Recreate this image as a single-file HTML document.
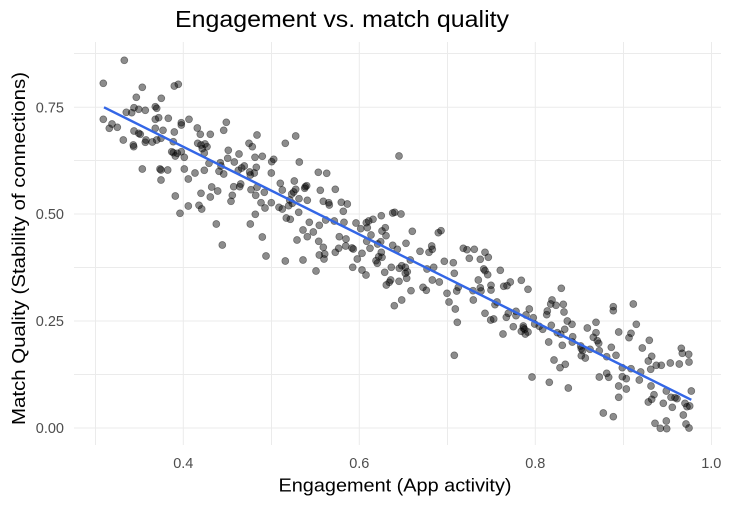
<!DOCTYPE html>
<html>
<head>
<meta charset="utf-8">
<style>
html,body{margin:0;padding:0;background:#fff;}
svg{display:block;}
</style>
</head>
<body>
<svg width="731" height="506" viewBox="0 0 731 506" xmlns="http://www.w3.org/2000/svg">
<rect width="731" height="506" fill="#fff"/>
<g stroke="#ebebeb" stroke-width="1" fill="none">
<line x1="74" x2="721" y1="53.5" y2="53.5"/>
<line x1="74" x2="721" y1="107.3" y2="107.3"/>
<line x1="74" x2="721" y1="160.5" y2="160.5"/>
<line x1="74" x2="721" y1="214" y2="214"/>
<line x1="74" x2="721" y1="267.5" y2="267.5"/>
<line x1="74" x2="721" y1="321" y2="321"/>
<line x1="74" x2="721" y1="374.5" y2="374.5"/>
<line x1="74" x2="721" y1="428" y2="428"/>
<line y1="42" y2="445" x1="95.5" x2="95.5"/>
<line y1="42" y2="445" x1="183.3" x2="183.3"/>
<line y1="42" y2="445" x1="271.5" x2="271.5"/>
<line y1="42" y2="445" x1="359.3" x2="359.3"/>
<line y1="42" y2="445" x1="447.5" x2="447.5"/>
<line y1="42" y2="445" x1="535.3" x2="535.3"/>
<line y1="42" y2="445" x1="623.5" x2="623.5"/>
<line y1="42" y2="445" x1="711.5" x2="711.5"/>
</g>
<g fill="#000" fill-opacity="0.45" stroke="#000" stroke-opacity="0.45" stroke-width="0.7">
<circle cx="124.3" cy="60.3" r="3.5"/><circle cx="103.3" cy="83.3" r="3.5"/><circle cx="142.3" cy="87.3" r="3.5"/><circle cx="174.3" cy="86" r="3.5"/><circle cx="178.3" cy="84.3" r="3.5"/><circle cx="136.3" cy="97.3" r="3.5"/><circle cx="161.3" cy="98.3" r="3.5"/><circle cx="134" cy="107.7" r="3.5"/><circle cx="131.7" cy="112.7" r="3.5"/><circle cx="126.3" cy="112.3" r="3.5"/><circle cx="138.7" cy="109.3" r="3.5"/><circle cx="145.3" cy="110.3" r="3.5"/><circle cx="155.3" cy="106.7" r="3.5"/><circle cx="156.7" cy="108.3" r="3.5"/><circle cx="103.3" cy="119.3" r="3.5"/><circle cx="112" cy="124" r="3.5"/><circle cx="109.3" cy="128.3" r="3.5"/><circle cx="117.3" cy="127.3" r="3.5"/><circle cx="155.3" cy="119.3" r="3.5"/><circle cx="158.7" cy="117.7" r="3.5"/><circle cx="168.3" cy="118.3" r="3.5"/><circle cx="181.3" cy="122.7" r="3.5"/><circle cx="181.3" cy="125" r="3.5"/><circle cx="189" cy="119.3" r="3.5"/><circle cx="155.3" cy="128.3" r="3.5"/><circle cx="163" cy="130.3" r="3.5"/><circle cx="174.3" cy="132" r="3.5"/><circle cx="134" cy="131" r="3.5"/><circle cx="138.7" cy="133.3" r="3.5"/><circle cx="140.3" cy="134.3" r="3.5"/><circle cx="123.3" cy="140" r="3.5"/><circle cx="146" cy="140" r="3.5"/><circle cx="145.3" cy="142.3" r="3.5"/><circle cx="152.3" cy="142" r="3.5"/><circle cx="156.7" cy="140" r="3.5"/><circle cx="133.3" cy="145" r="3.5"/><circle cx="133.7" cy="146.7" r="3.5"/><circle cx="161" cy="138.3" r="3.5"/><circle cx="173.3" cy="141.7" r="3.5"/><circle cx="171.7" cy="151.7" r="3.5"/><circle cx="173.3" cy="152.7" r="3.5"/><circle cx="177.3" cy="153.3" r="3.5"/><circle cx="175.3" cy="156" r="3.5"/><circle cx="184.3" cy="157.3" r="3.5"/><circle cx="181.3" cy="151.7" r="3.5"/><circle cx="142.3" cy="169" r="3.5"/><circle cx="160" cy="169" r="3.5"/><circle cx="161" cy="170" r="3.5"/><circle cx="167.7" cy="170" r="3.5"/><circle cx="161" cy="180" r="3.5"/><circle cx="184.3" cy="169" r="3.5"/><circle cx="188.3" cy="179" r="3.5"/><circle cx="175.3" cy="196" r="3.5"/><circle cx="188.3" cy="206" r="3.5"/><circle cx="180" cy="213.3" r="3.5"/>
<circle cx="226.3" cy="122.3" r="3.5"/><circle cx="197.3" cy="128" r="3.5"/><circle cx="223.7" cy="130.3" r="3.5"/><circle cx="200.3" cy="134.3" r="3.5"/><circle cx="210.3" cy="134.3" r="3.5"/><circle cx="257" cy="135" r="3.5"/><circle cx="295.7" cy="136" r="3.5"/><circle cx="285.3" cy="143.3" r="3.5"/><circle cx="197.7" cy="143.3" r="3.5"/><circle cx="201" cy="145" r="3.5"/><circle cx="205" cy="144" r="3.5"/><circle cx="202.3" cy="148.7" r="3.5"/><circle cx="207" cy="146.7" r="3.5"/><circle cx="249" cy="143.3" r="3.5"/><circle cx="252.3" cy="146.7" r="3.5"/><circle cx="228.3" cy="150.3" r="3.5"/><circle cx="239" cy="154" r="3.5"/><circle cx="204.3" cy="153" r="3.5"/><circle cx="255" cy="157.3" r="3.5"/><circle cx="262.3" cy="156.3" r="3.5"/><circle cx="227.7" cy="158.3" r="3.5"/><circle cx="234.3" cy="162" r="3.5"/><circle cx="273.7" cy="159.3" r="3.5"/><circle cx="271.7" cy="161.7" r="3.5"/><circle cx="220.3" cy="162.7" r="3.5"/><circle cx="221" cy="166" r="3.5"/><circle cx="209" cy="163.3" r="3.5"/><circle cx="299.3" cy="162" r="3.5"/><circle cx="244.3" cy="166" r="3.5"/><circle cx="241.7" cy="168" r="3.5"/><circle cx="238.3" cy="170.3" r="3.5"/><circle cx="256.3" cy="167.3" r="3.5"/><circle cx="195" cy="173" r="3.5"/><circle cx="204.3" cy="170.3" r="3.5"/><circle cx="219" cy="171.3" r="3.5"/><circle cx="223.7" cy="174" r="3.5"/><circle cx="249.7" cy="172" r="3.5"/><circle cx="254.3" cy="173" r="3.5"/><circle cx="250.3" cy="175" r="3.5"/><circle cx="271.3" cy="173" r="3.5"/><circle cx="280.3" cy="183.3" r="3.5"/><circle cx="294.3" cy="181" r="3.5"/><circle cx="211.7" cy="187" r="3.5"/><circle cx="217.7" cy="191" r="3.5"/><circle cx="233.7" cy="186.7" r="3.5"/><circle cx="239.7" cy="186.7" r="3.5"/><circle cx="240.7" cy="184" r="3.5"/><circle cx="251" cy="189.7" r="3.5"/><circle cx="257" cy="187.3" r="3.5"/><circle cx="264.3" cy="192.3" r="3.5"/><circle cx="282.3" cy="190" r="3.5"/><circle cx="295.7" cy="189.3" r="3.5"/><circle cx="293.7" cy="192" r="3.5"/><circle cx="291.7" cy="194" r="3.5"/><circle cx="201" cy="193.3" r="3.5"/><circle cx="210.3" cy="197" r="3.5"/><circle cx="232.3" cy="195.3" r="3.5"/><circle cx="231" cy="201.3" r="3.5"/><circle cx="255.7" cy="195.3" r="3.5"/><circle cx="261" cy="202.7" r="3.5"/><circle cx="265" cy="208" r="3.5"/><circle cx="271.3" cy="202.7" r="3.5"/><circle cx="279" cy="207.3" r="3.5"/><circle cx="282.3" cy="209" r="3.5"/><circle cx="289.7" cy="200" r="3.5"/><circle cx="292.3" cy="203.3" r="3.5"/><circle cx="288.7" cy="205.7" r="3.5"/><circle cx="299" cy="198.7" r="3.5"/><circle cx="298.7" cy="212.3" r="3.5"/><circle cx="199" cy="205.3" r="3.5"/><circle cx="201.7" cy="209" r="3.5"/><circle cx="255.3" cy="214.3" r="3.5"/><circle cx="286.3" cy="218" r="3.5"/><circle cx="290.3" cy="219.3" r="3.5"/><circle cx="216.3" cy="224" r="3.5"/><circle cx="250.3" cy="224" r="3.5"/><circle cx="303" cy="230" r="3.5"/><circle cx="262.3" cy="237" r="3.5"/><circle cx="297" cy="240" r="3.5"/><circle cx="222.3" cy="245" r="3.5"/><circle cx="266" cy="256" r="3.5"/><circle cx="285.3" cy="261" r="3.5"/><circle cx="303" cy="260" r="3.5"/>
<circle cx="399" cy="156" r="3.5"/><circle cx="318.3" cy="172.3" r="3.5"/><circle cx="326.7" cy="173.3" r="3.5"/><circle cx="305.3" cy="186.7" r="3.5"/><circle cx="306.7" cy="185.7" r="3.5"/><circle cx="304.7" cy="188.3" r="3.5"/><circle cx="320.3" cy="190.3" r="3.5"/><circle cx="335.3" cy="189.3" r="3.5"/><circle cx="307.3" cy="200.3" r="3.5"/><circle cx="323.3" cy="201.3" r="3.5"/><circle cx="328.7" cy="202.7" r="3.5"/><circle cx="329.3" cy="205" r="3.5"/><circle cx="341.3" cy="202.3" r="3.5"/><circle cx="347.3" cy="204" r="3.5"/><circle cx="343.3" cy="211.3" r="3.5"/><circle cx="392.7" cy="213" r="3.5"/><circle cx="394.7" cy="212.3" r="3.5"/><circle cx="401" cy="214" r="3.5"/><circle cx="381.3" cy="215.7" r="3.5"/><circle cx="373" cy="219.3" r="3.5"/><circle cx="368.7" cy="221" r="3.5"/><circle cx="366.3" cy="222.7" r="3.5"/><circle cx="325.7" cy="220" r="3.5"/><circle cx="334.3" cy="221" r="3.5"/><circle cx="309.3" cy="222.3" r="3.5"/><circle cx="319.3" cy="225.3" r="3.5"/><circle cx="344" cy="222.3" r="3.5"/><circle cx="356" cy="223" r="3.5"/><circle cx="360.7" cy="228.7" r="3.5"/><circle cx="367.3" cy="227.7" r="3.5"/><circle cx="385.3" cy="227.7" r="3.5"/><circle cx="382" cy="231" r="3.5"/><circle cx="386" cy="235.7" r="3.5"/><circle cx="313.3" cy="232" r="3.5"/><circle cx="307.3" cy="236.7" r="3.5"/><circle cx="339.3" cy="236.7" r="3.5"/><circle cx="346" cy="239" r="3.5"/><circle cx="371" cy="235" r="3.5"/><circle cx="318.7" cy="241.3" r="3.5"/><circle cx="366.7" cy="241.3" r="3.5"/><circle cx="380.7" cy="241.7" r="3.5"/><circle cx="377.7" cy="244" r="3.5"/><circle cx="406" cy="243.3" r="3.5"/><circle cx="392.7" cy="245.3" r="3.5"/><circle cx="323.3" cy="247.3" r="3.5"/><circle cx="345.7" cy="246" r="3.5"/><circle cx="338.7" cy="248.3" r="3.5"/><circle cx="335.3" cy="252.3" r="3.5"/><circle cx="353.3" cy="249" r="3.5"/><circle cx="352" cy="248" r="3.5"/><circle cx="370" cy="248.3" r="3.5"/><circle cx="397.3" cy="249.3" r="3.5"/><circle cx="362" cy="253.3" r="3.5"/><circle cx="324.7" cy="254" r="3.5"/><circle cx="319.3" cy="255" r="3.5"/><circle cx="324" cy="259" r="3.5"/><circle cx="381.3" cy="252.3" r="3.5"/><circle cx="378.7" cy="256.7" r="3.5"/><circle cx="382" cy="257.3" r="3.5"/><circle cx="376" cy="260.7" r="3.5"/><circle cx="377.3" cy="263.3" r="3.5"/><circle cx="357.3" cy="259" r="3.5"/><circle cx="352.7" cy="267.3" r="3.5"/><circle cx="362" cy="270" r="3.5"/><circle cx="366" cy="275" r="3.5"/><circle cx="316" cy="271" r="3.5"/><circle cx="391.3" cy="267.3" r="3.5"/><circle cx="399.3" cy="268.3" r="3.5"/><circle cx="401.7" cy="265.7" r="3.5"/><circle cx="405.3" cy="267.3" r="3.5"/><circle cx="407.3" cy="271.7" r="3.5"/><circle cx="405.3" cy="273.3" r="3.5"/><circle cx="384.7" cy="272.3" r="3.5"/><circle cx="390.7" cy="280" r="3.5"/><circle cx="389.3" cy="282.3" r="3.5"/><circle cx="386.3" cy="285" r="3.5"/><circle cx="399" cy="281.3" r="3.5"/><circle cx="406.7" cy="278.3" r="3.5"/><circle cx="401.7" cy="300" r="3.5"/><circle cx="394.3" cy="305.7" r="3.5"/>
<circle cx="412.3" cy="231.3" r="3.5"/><circle cx="438.3" cy="232.7" r="3.5"/><circle cx="441" cy="230.7" r="3.5"/><circle cx="420" cy="251.3" r="3.5"/><circle cx="431.7" cy="246" r="3.5"/><circle cx="429" cy="252.3" r="3.5"/><circle cx="432.3" cy="249.3" r="3.5"/><circle cx="463.3" cy="248.3" r="3.5"/><circle cx="467" cy="249.7" r="3.5"/><circle cx="474.3" cy="249.3" r="3.5"/><circle cx="485" cy="252.3" r="3.5"/><circle cx="488.3" cy="257.3" r="3.5"/><circle cx="469.3" cy="258.3" r="3.5"/><circle cx="480.3" cy="259.3" r="3.5"/><circle cx="410.3" cy="260" r="3.5"/><circle cx="444.3" cy="261.3" r="3.5"/><circle cx="453.3" cy="262.7" r="3.5"/><circle cx="427" cy="269" r="3.5"/><circle cx="433.7" cy="267.3" r="3.5"/><circle cx="483.7" cy="269" r="3.5"/><circle cx="485" cy="270.7" r="3.5"/><circle cx="487.7" cy="274.7" r="3.5"/><circle cx="500.3" cy="270.3" r="3.5"/><circle cx="454.3" cy="273.3" r="3.5"/><circle cx="432.3" cy="280" r="3.5"/><circle cx="439.3" cy="282" r="3.5"/><circle cx="478.3" cy="280" r="3.5"/><circle cx="491" cy="285.3" r="3.5"/><circle cx="491" cy="290" r="3.5"/><circle cx="503.7" cy="286.3" r="3.5"/><circle cx="510.3" cy="282" r="3.5"/><circle cx="507" cy="285.7" r="3.5"/><circle cx="411" cy="290.7" r="3.5"/><circle cx="423" cy="287.3" r="3.5"/><circle cx="426.3" cy="290.3" r="3.5"/><circle cx="458.3" cy="287.3" r="3.5"/><circle cx="456.7" cy="291" r="3.5"/><circle cx="480.3" cy="287.7" r="3.5"/><circle cx="481" cy="291" r="3.5"/><circle cx="473" cy="290.7" r="3.5"/><circle cx="447" cy="293.3" r="3.5"/><circle cx="497" cy="302" r="3.5"/><circle cx="495" cy="304.7" r="3.5"/><circle cx="473.3" cy="300" r="3.5"/><circle cx="449" cy="302" r="3.5"/><circle cx="455.3" cy="309" r="3.5"/><circle cx="485" cy="313.3" r="3.5"/><circle cx="508.3" cy="313.3" r="3.5"/><circle cx="506.3" cy="317.3" r="3.5"/><circle cx="490.7" cy="320" r="3.5"/><circle cx="493.7" cy="319" r="3.5"/><circle cx="457.3" cy="322.3" r="3.5"/><circle cx="513.3" cy="326.7" r="3.5"/><circle cx="503" cy="334" r="3.5"/><circle cx="454.3" cy="355.3" r="3.5"/>
<circle cx="521.3" cy="280.3" r="3.5"/><circle cx="528" cy="289.3" r="3.5"/><circle cx="561.3" cy="288.3" r="3.5"/><circle cx="552" cy="300" r="3.5"/><circle cx="550.7" cy="304" r="3.5"/><circle cx="556" cy="305.3" r="3.5"/><circle cx="563.3" cy="304.3" r="3.5"/><circle cx="613.3" cy="306.7" r="3.5"/><circle cx="613.3" cy="310.7" r="3.5"/><circle cx="529.3" cy="309" r="3.5"/><circle cx="516" cy="315.7" r="3.5"/><circle cx="516" cy="311.3" r="3.5"/><circle cx="526" cy="315" r="3.5"/><circle cx="533.3" cy="317.7" r="3.5"/><circle cx="547.3" cy="311" r="3.5"/><circle cx="546.7" cy="314.7" r="3.5"/><circle cx="564" cy="312" r="3.5"/><circle cx="567.3" cy="321" r="3.5"/><circle cx="572" cy="324.3" r="3.5"/><circle cx="596" cy="322.3" r="3.5"/><circle cx="523.3" cy="326" r="3.5"/><circle cx="524.7" cy="329.3" r="3.5"/><circle cx="521.3" cy="331.3" r="3.5"/><circle cx="525.3" cy="334" r="3.5"/><circle cx="528" cy="332" r="3.5"/><circle cx="523.3" cy="328" r="3.5"/><circle cx="534.7" cy="324" r="3.5"/><circle cx="539.3" cy="326.3" r="3.5"/><circle cx="542.7" cy="329.3" r="3.5"/><circle cx="551.3" cy="325.3" r="3.5"/><circle cx="564.7" cy="329.3" r="3.5"/><circle cx="557.3" cy="332.7" r="3.5"/><circle cx="560.7" cy="334.3" r="3.5"/><circle cx="587.3" cy="328" r="3.5"/><circle cx="596" cy="332.7" r="3.5"/><circle cx="593.3" cy="337.3" r="3.5"/><circle cx="572.7" cy="336.7" r="3.5"/><circle cx="572.3" cy="342" r="3.5"/><circle cx="597.3" cy="340.7" r="3.5"/><circle cx="598.7" cy="343.3" r="3.5"/><circle cx="618.7" cy="332" r="3.5"/><circle cx="548.7" cy="342" r="3.5"/><circle cx="562.3" cy="345.3" r="3.5"/><circle cx="580.7" cy="346" r="3.5"/><circle cx="581.3" cy="348.7" r="3.5"/><circle cx="582.7" cy="350.7" r="3.5"/><circle cx="590" cy="349.3" r="3.5"/><circle cx="611.3" cy="347.3" r="3.5"/><circle cx="599.3" cy="350.7" r="3.5"/><circle cx="581.3" cy="355.7" r="3.5"/><circle cx="585.3" cy="358" r="3.5"/><circle cx="606.7" cy="356.7" r="3.5"/><circle cx="616" cy="355.3" r="3.5"/><circle cx="554" cy="360" r="3.5"/><circle cx="565.3" cy="364.3" r="3.5"/><circle cx="560" cy="367.7" r="3.5"/><circle cx="532" cy="377" r="3.5"/><circle cx="599.3" cy="377" r="3.5"/><circle cx="606.7" cy="373.3" r="3.5"/><circle cx="608.7" cy="377.3" r="3.5"/><circle cx="549.3" cy="382.3" r="3.5"/><circle cx="568.3" cy="388" r="3.5"/><circle cx="618.7" cy="386" r="3.5"/><circle cx="618.7" cy="397.3" r="3.5"/><circle cx="603.3" cy="413" r="3.5"/><circle cx="613.3" cy="416.7" r="3.5"/>
<circle cx="633.3" cy="304" r="3.5"/><circle cx="636.3" cy="324.3" r="3.5"/><circle cx="631" cy="333.3" r="3.5"/><circle cx="629" cy="337.7" r="3.5"/><circle cx="649.3" cy="340.3" r="3.5"/><circle cx="642.3" cy="348" r="3.5"/><circle cx="681.3" cy="348.3" r="3.5"/><circle cx="682.3" cy="353.3" r="3.5"/><circle cx="688.7" cy="354.3" r="3.5"/><circle cx="651.7" cy="356.3" r="3.5"/><circle cx="648.3" cy="361" r="3.5"/><circle cx="656.3" cy="365.3" r="3.5"/><circle cx="661.3" cy="365.3" r="3.5"/><circle cx="670.3" cy="363" r="3.5"/><circle cx="679.3" cy="364" r="3.5"/><circle cx="689" cy="362" r="3.5"/><circle cx="650.7" cy="369.3" r="3.5"/><circle cx="622.3" cy="367.7" r="3.5"/><circle cx="631" cy="368.7" r="3.5"/><circle cx="640.7" cy="372" r="3.5"/><circle cx="622.3" cy="376.7" r="3.5"/><circle cx="626.3" cy="378.7" r="3.5"/><circle cx="639.3" cy="380" r="3.5"/><circle cx="626.3" cy="389" r="3.5"/><circle cx="651" cy="386" r="3.5"/><circle cx="666.3" cy="391" r="3.5"/><circle cx="691.3" cy="391" r="3.5"/><circle cx="654" cy="394.7" r="3.5"/><circle cx="651.7" cy="399.3" r="3.5"/><circle cx="648.3" cy="402" r="3.5"/><circle cx="671" cy="397.3" r="3.5"/><circle cx="675" cy="397.7" r="3.5"/><circle cx="677" cy="398.7" r="3.5"/><circle cx="663.3" cy="403.3" r="3.5"/><circle cx="672.3" cy="407.3" r="3.5"/><circle cx="685" cy="403.3" r="3.5"/><circle cx="687" cy="406.7" r="3.5"/><circle cx="689.7" cy="406" r="3.5"/><circle cx="683.3" cy="415" r="3.5"/><circle cx="655" cy="423.3" r="3.5"/><circle cx="666.3" cy="421" r="3.5"/><circle cx="660.3" cy="428.3" r="3.5"/><circle cx="666.7" cy="428.7" r="3.5"/><circle cx="686" cy="424" r="3.5"/><circle cx="689" cy="428" r="3.5"/>
</g>
<line x1="104" y1="107.3" x2="691.3" y2="399.8" stroke="#3366e6" stroke-width="2.4"/>
<g font-family="Liberation Sans, Arial, sans-serif" font-size="14.5" fill="#4d4d4d">
<text x="64" y="433" text-anchor="end">0.00</text>
<text x="64" y="326" text-anchor="end">0.25</text>
<text x="64" y="219" text-anchor="end">0.50</text>
<text x="64" y="112.3" text-anchor="end">0.75</text>
<text x="183.3" y="468" text-anchor="middle">0.4</text>
<text x="359.3" y="468" text-anchor="middle">0.6</text>
<text x="535.3" y="468" text-anchor="middle">0.8</text>
<text x="711.3" y="468" text-anchor="middle">1.0</text>
</g>
<g font-family="Liberation Sans, Arial, sans-serif" fill="#000">
<text x="175" y="27" font-size="23" textLength="334" lengthAdjust="spacingAndGlyphs">Engagement vs. match quality</text>
<text x="278.5" y="491.5" font-size="18" textLength="233" lengthAdjust="spacingAndGlyphs">Engagement (App activity)</text>
<text transform="translate(25,425) rotate(-90)" x="0" y="0" font-size="18" textLength="353" lengthAdjust="spacingAndGlyphs">Match Quality (Stability of connections)</text>
</g>
</svg>
</body>
</html>
